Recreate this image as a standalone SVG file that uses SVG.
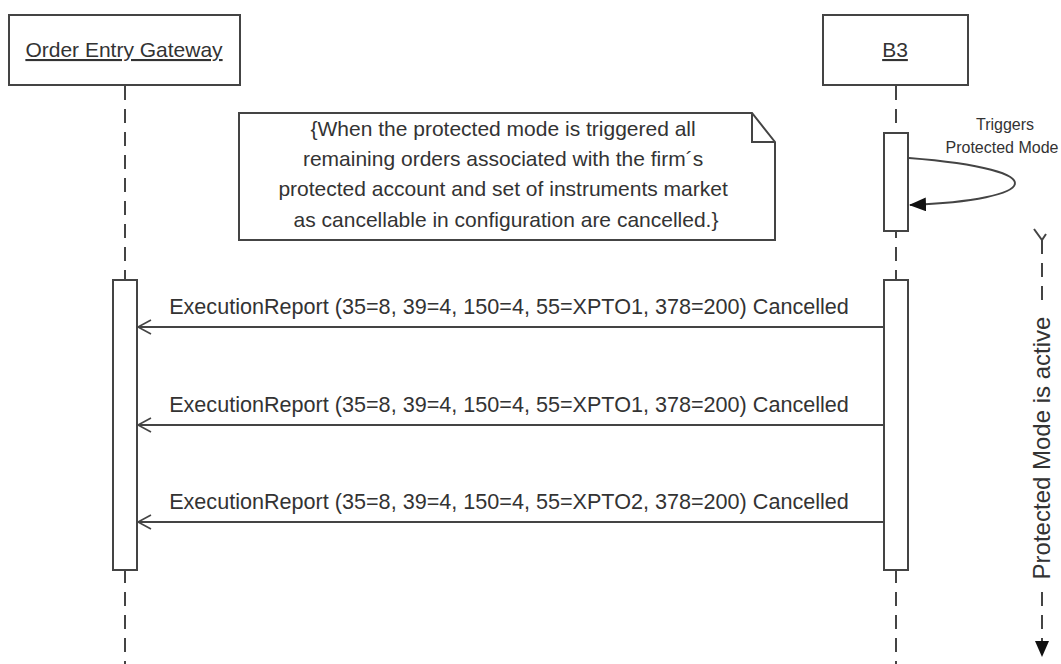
<svg xmlns="http://www.w3.org/2000/svg" width="1061" height="664" viewBox="0 0 1061 664">
<defs>
<style>
text{font-family:"Liberation Sans",Arial,sans-serif;fill:#333;}
.box{fill:#fff;stroke:#444;stroke-width:2;}
.life{stroke:#444;stroke-width:2;stroke-dasharray:14,9;fill:none;}
.msg{stroke:#444;stroke-width:2;fill:none;}
.lbl{font-size:21px;}
.mlbl{font-size:21.6px;}
.small{font-size:16px;}
</style>
<marker id="open" markerWidth="16" markerHeight="16" refX="14" refY="8" orient="auto" markerUnits="userSpaceOnUse">
<path d="M1,1 L14,8 L1,15" fill="none" stroke="#444" stroke-width="1.6"/>
</marker>
<marker id="filled" markerWidth="18" markerHeight="14" refX="16" refY="7" orient="auto" markerUnits="userSpaceOnUse">
<path d="M0,0 L17,7 L0,14 Z" fill="#111"/>
</marker>
</defs>
<rect width="1061" height="664" fill="#fff"/>
<g id="lifelines">
<line class="life" x1="125" y1="86" x2="125" y2="664"/>
<line class="life" x1="896" y1="86" x2="896" y2="664"/>
</g>
<g id="order-entry-gateway">
<rect class="box" x="9" y="15" width="231" height="70"/>
<text class="lbl" x="124" y="57" text-anchor="middle" text-decoration="underline">Order Entry Gateway</text>
<rect class="box" x="113" y="280" width="24" height="290"/>
</g>
<g id="b3">
<rect class="box" x="823" y="15" width="145" height="70"/>
<text class="lbl" x="895" y="57" text-anchor="middle" text-decoration="underline">B3</text>
<rect class="box" x="884" y="133" width="24" height="98"/>
<rect class="box" x="884" y="280" width="24" height="290"/>
</g>
<g id="note">
<path class="box" d="M239,113 L752,113 L775,142 L775,240 L239,240 Z"/>
<path d="M752,113 L752,142 L775,142" fill="none" stroke="#444" stroke-width="2"/>
<text class="lbl" text-anchor="middle">
<tspan x="506" y="136">{When the protected mode is triggered all</tspan>
<tspan x="506" y="166">remaining orders associated with the firm´s</tspan>
<tspan x="506" y="196">protected account and set of instruments market</tspan>
<tspan x="506" y="227">as cancellable in configuration are cancelled.}</tspan>
</text>
</g>
<g id="connectors">
<path class="msg" d="M909,158 C1060,170 1040,200 910,205" marker-end="url(#filled)"/>
<line class="msg" x1="884" y1="327" x2="138" y2="327" marker-end="url(#open)"/>
<line class="msg" x1="884" y1="425" x2="138" y2="425" marker-end="url(#open)"/>
<line class="msg" x1="884" y1="522" x2="138" y2="522" marker-end="url(#open)"/>
<line class="life" x1="1042" y1="240" x2="1042" y2="305"/>
<line class="life" x1="1042" y1="592" x2="1042" y2="642"/>
<path d="M1034,229 L1042,240 L1046,234" fill="none" stroke="#444" stroke-width="2"/>
<path d="M1035,641 L1049,641 L1042,657 Z" fill="#111"/>
</g>
<g id="labels">
<text class="small" x="1005" y="130" text-anchor="middle">Triggers</text>
<text class="small" x="1002" y="153" text-anchor="middle">Protected Mode</text>
<text class="mlbl" x="509" y="314" text-anchor="middle">ExecutionReport (35=8, 39=4, 150=4, 55=XPTO1, 378=200) Cancelled</text>
<text class="mlbl" x="509" y="412" text-anchor="middle">ExecutionReport (35=8, 39=4, 150=4, 55=XPTO1, 378=200) Cancelled</text>
<text class="mlbl" x="509" y="509" text-anchor="middle">ExecutionReport (35=8, 39=4, 150=4, 55=XPTO2, 378=200) Cancelled</text>
<text transform="translate(1050,448) rotate(-90)" text-anchor="middle" style="font-size:24px">Protected Mode is active</text>
</g>
</svg>
